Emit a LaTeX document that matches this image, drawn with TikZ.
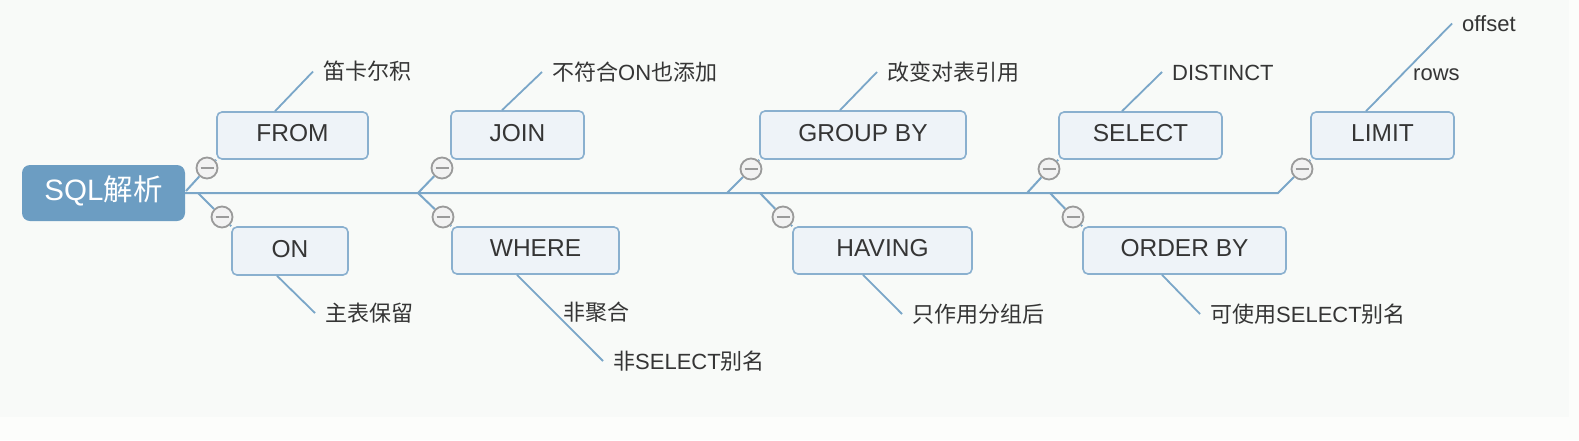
\documentclass[tikz,border=0pt]{standalone}
\usepackage{fontspec}
\setmainfont{Liberation Sans}
\newfontfamily\cjk{Noto Sans CJK SC}
\newcommand{\hanzi}[1]{{\cjk #1}}
\usepackage{tikz}
\definecolor{pagebg}{HTML}{FCFDFB}
\definecolor{canvas}{HTML}{F8FAF8}
\definecolor{branchcol}{HTML}{7AA6C8}
\definecolor{boxfill}{HTML}{EEF3F8}
\definecolor{boxline}{HTML}{8AB0CF}
\definecolor{rootfill}{HTML}{6C9DC2}
\definecolor{foldline}{HTML}{9A9A9A}
\definecolor{inkcol}{HTML}{353535}
\tikzset{root/.style={fill=rootfill,rounded corners=8pt,inner sep=0pt,
    minimum width=163pt,minimum height=56pt,text=white,
    font=\fontsize{29.5}{35}\selectfont,text height=15pt,text depth=0pt}
}
\tikzset{topic/.style={draw=boxline,fill=boxfill,line width=1.6pt,rounded corners=5pt,
    inner sep=0pt,minimum height=47pt,text=inkcol,
    font=\fontsize{24.5}{29}\selectfont,text height=12pt,text depth=0pt}
}
\tikzset{fold/.style={circle,draw=foldline,fill=white!95!black,line width=1.8pt,
    minimum size=21pt,inner sep=0pt,
    path picture={\draw[foldline,line width=2pt]
      ([xshift=-6.5pt]path picture bounding box.center) --
      ([xshift=6.5pt]path picture bounding box.center);}}
}
\tikzset{note/.style={anchor=west,inner xsep=10pt,inner ysep=0pt,text=inkcol,
    font=\fontsize{22}{26}\selectfont,text height=16.5pt,text depth=0pt}
}
\tikzset{branch/.style={draw=branchcol,line width=2pt}}
\tikzset{leaf/.style={draw=branchcol,line width=1.8pt}}

\begin{document}
\begin{tikzpicture}[x=1pt,y=-1pt]
                \useasboundingbox (0,0) rectangle (1579,440);
                \fill[pagebg] (0,0) rectangle (1579,440);
                \fill[canvas] (0,0) rectangle (1569,417);

                % Root
                \node[root] (sql) at (103.5,193) {SQL\hanzi{解析}};

                % Topics
                \node[topic,minimum width=151pt] (from) at (292.5,135.5) {FROM};
                \node[topic,minimum width=116pt,minimum height=48pt] (on) at (290,251) {ON};
                \node[topic,minimum width=133pt,minimum height=48pt] (join) at (517.5,135) {JOIN};
                \node[topic,minimum width=167pt] (where) at (535.5,250.5) {WHERE};
                \node[topic,minimum width=206pt,minimum height=48pt] (groupby) at (863,135) {GROUP BY};
                \node[topic,minimum width=179pt] (having) at (882.5,250.5) {HAVING};
                \node[topic,minimum width=163pt] (select) at (1140.5,135.5) {SELECT};
                \node[topic,minimum width=203pt] (orderby) at (1184.5,250.5) {ORDER BY};
                \node[topic,minimum width=143pt] (limit) at (1382.5,135.5) {LIMIT};

                % Fold buttons
                \node[fold] (f1) at (207,168) {};
                \node[fold] (f2) at (222,217) {};
                \node[fold] (f3) at (442,168) {};
                \node[fold] (f4) at (443,217) {};
                \node[fold] (f5) at (751,169) {};
                \node[fold] (f6) at (783,217) {};
                \node[fold] (f7) at (1049,169) {};
                \node[fold] (f8) at (1073,217) {};
                \node[fold] (f9) at (1302,169) {};

                % Forks on the spine
                \coordinate (k1) at (186,191);
                \coordinate (k1b) at (198,193);
                \coordinate (k2) at (418,193);
                \coordinate (k3) at (727,193);
                \coordinate (k3b) at (760,193);
                \coordinate (k4) at (1027,193);
                \coordinate (k4b) at (1050,193);
                \coordinate (bend) at (1278,193);

                % Spine
                \draw[branch] (sql.east) -- (bend) -- (f9) -- (limit.south west);

                % Branches
                \draw[branch] (k1) -- (f1) -- (from.south west);
                \draw[branch] (k1b) -- (f2) -- (on.north west);
                \draw[branch] (k2) -- (f3) -- (join.south west);
                \draw[branch] (k2) -- (f4) -- (where.north west);
                \draw[branch] (k3) -- (f5) -- (groupby.south west);
                \draw[branch] (k3b) -- (f6) -- (having.north west);
                \draw[branch] (k4) -- (f7) -- (select.south west);
                \draw[branch] (k4b) -- (f8) -- (orderby.north west);

                % Notes
                \node[note] (n1) at (313,71.5) {\hanzi{笛卡尔积}};
                \node[note] (n2) at (315,313) {\hanzi{主表保留}};
                \node[note] (n3) at (542,72) {\hanzi{不符合}ON\hanzi{也添加}};
                \node[note] (n4) at (603,361) {\hanzi{非}SELECT\hanzi{别名}};
                \node[note] (n4b) at (553,312) {\hanzi{非聚合}};
                \node[note] (n5) at (877,72) {\hanzi{改变对表引用}};
                \node[note] (n6) at (902,314) {\hanzi{只作用分组后}};
                \node[note] (n7) at (1162,72) {DISTINCT};
                \node[note] (n8) at (1200,314) {\hanzi{可使用}SELECT\hanzi{别名}};
                \node[note] (n9) at (1452,23.5) {offset};
                \node[note] (n9b) at (1403,72) {rows};

                % Leaders
                \draw[leaf] ([xshift=-17.5pt]from.north) -- (n1.west);
                \draw[leaf] ([xshift=-13pt]on.south) -- (n2.west);
                \draw[leaf] ([xshift=-15.5pt]join.north) -- (n3.west);
                \draw[leaf] ([xshift=-18.5pt]where.south) -- (n4.west);
                \draw[leaf] ([xshift=-23pt]groupby.north) -- (n5.west);
                \draw[leaf] ([xshift=-19.5pt]having.south) -- (n6.west);
                \draw[leaf] ([xshift=-18.5pt]select.north) -- (n7.west);
                \draw[leaf] ([xshift=-22.5pt]orderby.south) -- (n8.west);
                \draw[leaf] ([xshift=-16.5pt]limit.north) -- (n9.west);
            \end{tikzpicture}
\end{document}
